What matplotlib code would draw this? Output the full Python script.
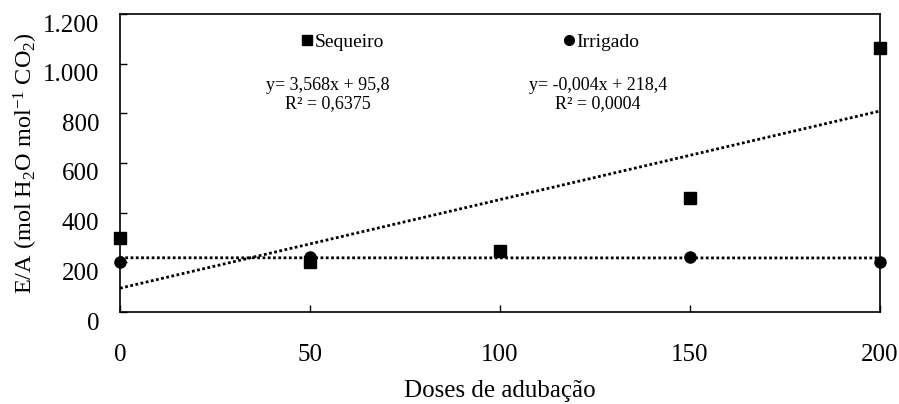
import matplotlib
matplotlib.use("Agg")
import matplotlib.pyplot as plt
import matplotlib.transforms as mtransforms
from matplotlib.lines import Line2D
import numpy as np

plt.rcParams['font.family'] = ['Liberation Serif', 'DejaVu Serif']
plt.rcParams['mathtext.fontset'] = 'custom'
plt.rcParams['mathtext.rm'] = 'Liberation Serif'
plt.rcParams['mathtext.it'] = 'Liberation Serif:italic'

doses = [0, 50, 100, 150, 200]
sequeiro = [298, 202, 246, 460, 1064]
irrigado = [202, 222, 246, 222, 201]
seq_coef = (3.568, 95.8)
irr_coef = (-0.004, 218.4)
seq_eq = "y= 3,568x + 95,8"
seq_r2 = "R² = 0,6375"
irr_eq = "y= -0,004x + 218,4"
irr_r2 = "R² = 0,0004"
yticks = [0, 200, 400, 600, 800, 1000, 1200]
ytick_labels = ["0", "200", "400", "600", "800", "1.000", "1.200"]
xticks = [0, 50, 100, 150, 200]

fig = plt.figure(figsize=(8.99, 4.04), dpi=100)
ax = fig.add_axes([120/899, 1-312/404, (880-120)/899, (312-14)/404])

xs = np.array([0, 200])
ax.plot(xs, seq_coef[0]*xs + seq_coef[1], color='black', lw=2,
        linestyle=(0, (1, 0.9)), zorder=2)
ax.plot(xs, irr_coef[0]*xs + irr_coef[1], color='black', lw=2,
        linestyle=(0, (1, 0.9)), zorder=2)
ax.plot(doses, irrigado, 'o', color='black', ms=8, zorder=3, clip_on=False)
ax.plot(doses, sequeiro, 's', color='black', ms=8.5, zorder=4, clip_on=False)

ax.set_xlim(0, 200)
ax.set_ylim(0, 1200)
ax.set_xticks(xticks)
ax.set_yticks(yticks)
ax.set_yticklabels(ytick_labels)
ax.tick_params(axis='both', direction='in', length=5, width=1, labelsize=18)
ax.tick_params(axis='x', pad=23)
ax.tick_params(axis='y', pad=15)
for sp in ax.spines.values():
    sp.set_linewidth(1.2)

offset = mtransforms.ScaledTranslation(0, -9/100, fig.dpi_scale_trans)
for lab in ax.get_yticklabels():
    lab.set_transform(lab.get_transform() + offset)

ax.set_xlabel("Doses de adubação", fontsize=18, labelpad=10)
ax.set_ylabel(r"E/A (mol H$_2$O mol$^{-1}$ CO$_2$)", fontsize=17.5)
ax.yaxis.set_label_coords(-80/760, 0.5)

h1 = Line2D([], [], marker='s', color='black', ls='none', ms=7)
h2 = Line2D([], [], marker='o', color='black', ls='none', ms=7)
leg1 = fig.legend([h1], ["Sequeiro"], loc='center left',
                  bbox_to_anchor=(302/899, 1-42/404), frameon=False,
                  fontsize=14, handlelength=0.5, handletextpad=0.15,
                  borderpad=0, borderaxespad=0)
leg2 = fig.legend([h2], ["Irrigado"], loc='center left',
                  bbox_to_anchor=(564/899, 1-42/404), frameon=False,
                  fontsize=14, handlelength=0.5, handletextpad=0.15,
                  borderpad=0, borderaxespad=0)

fig.text(328/899, 1-86/404, seq_eq, ha='center', va='center', fontsize=13)
fig.text(328/899, 1-104/404, seq_r2, ha='center', va='center', fontsize=13)
fig.text(598/899, 1-86/404, irr_eq, ha='center', va='center', fontsize=13)
fig.text(598/899, 1-104/404, irr_r2, ha='center', va='center', fontsize=13)

fig.savefig("out.png", dpi=100)
